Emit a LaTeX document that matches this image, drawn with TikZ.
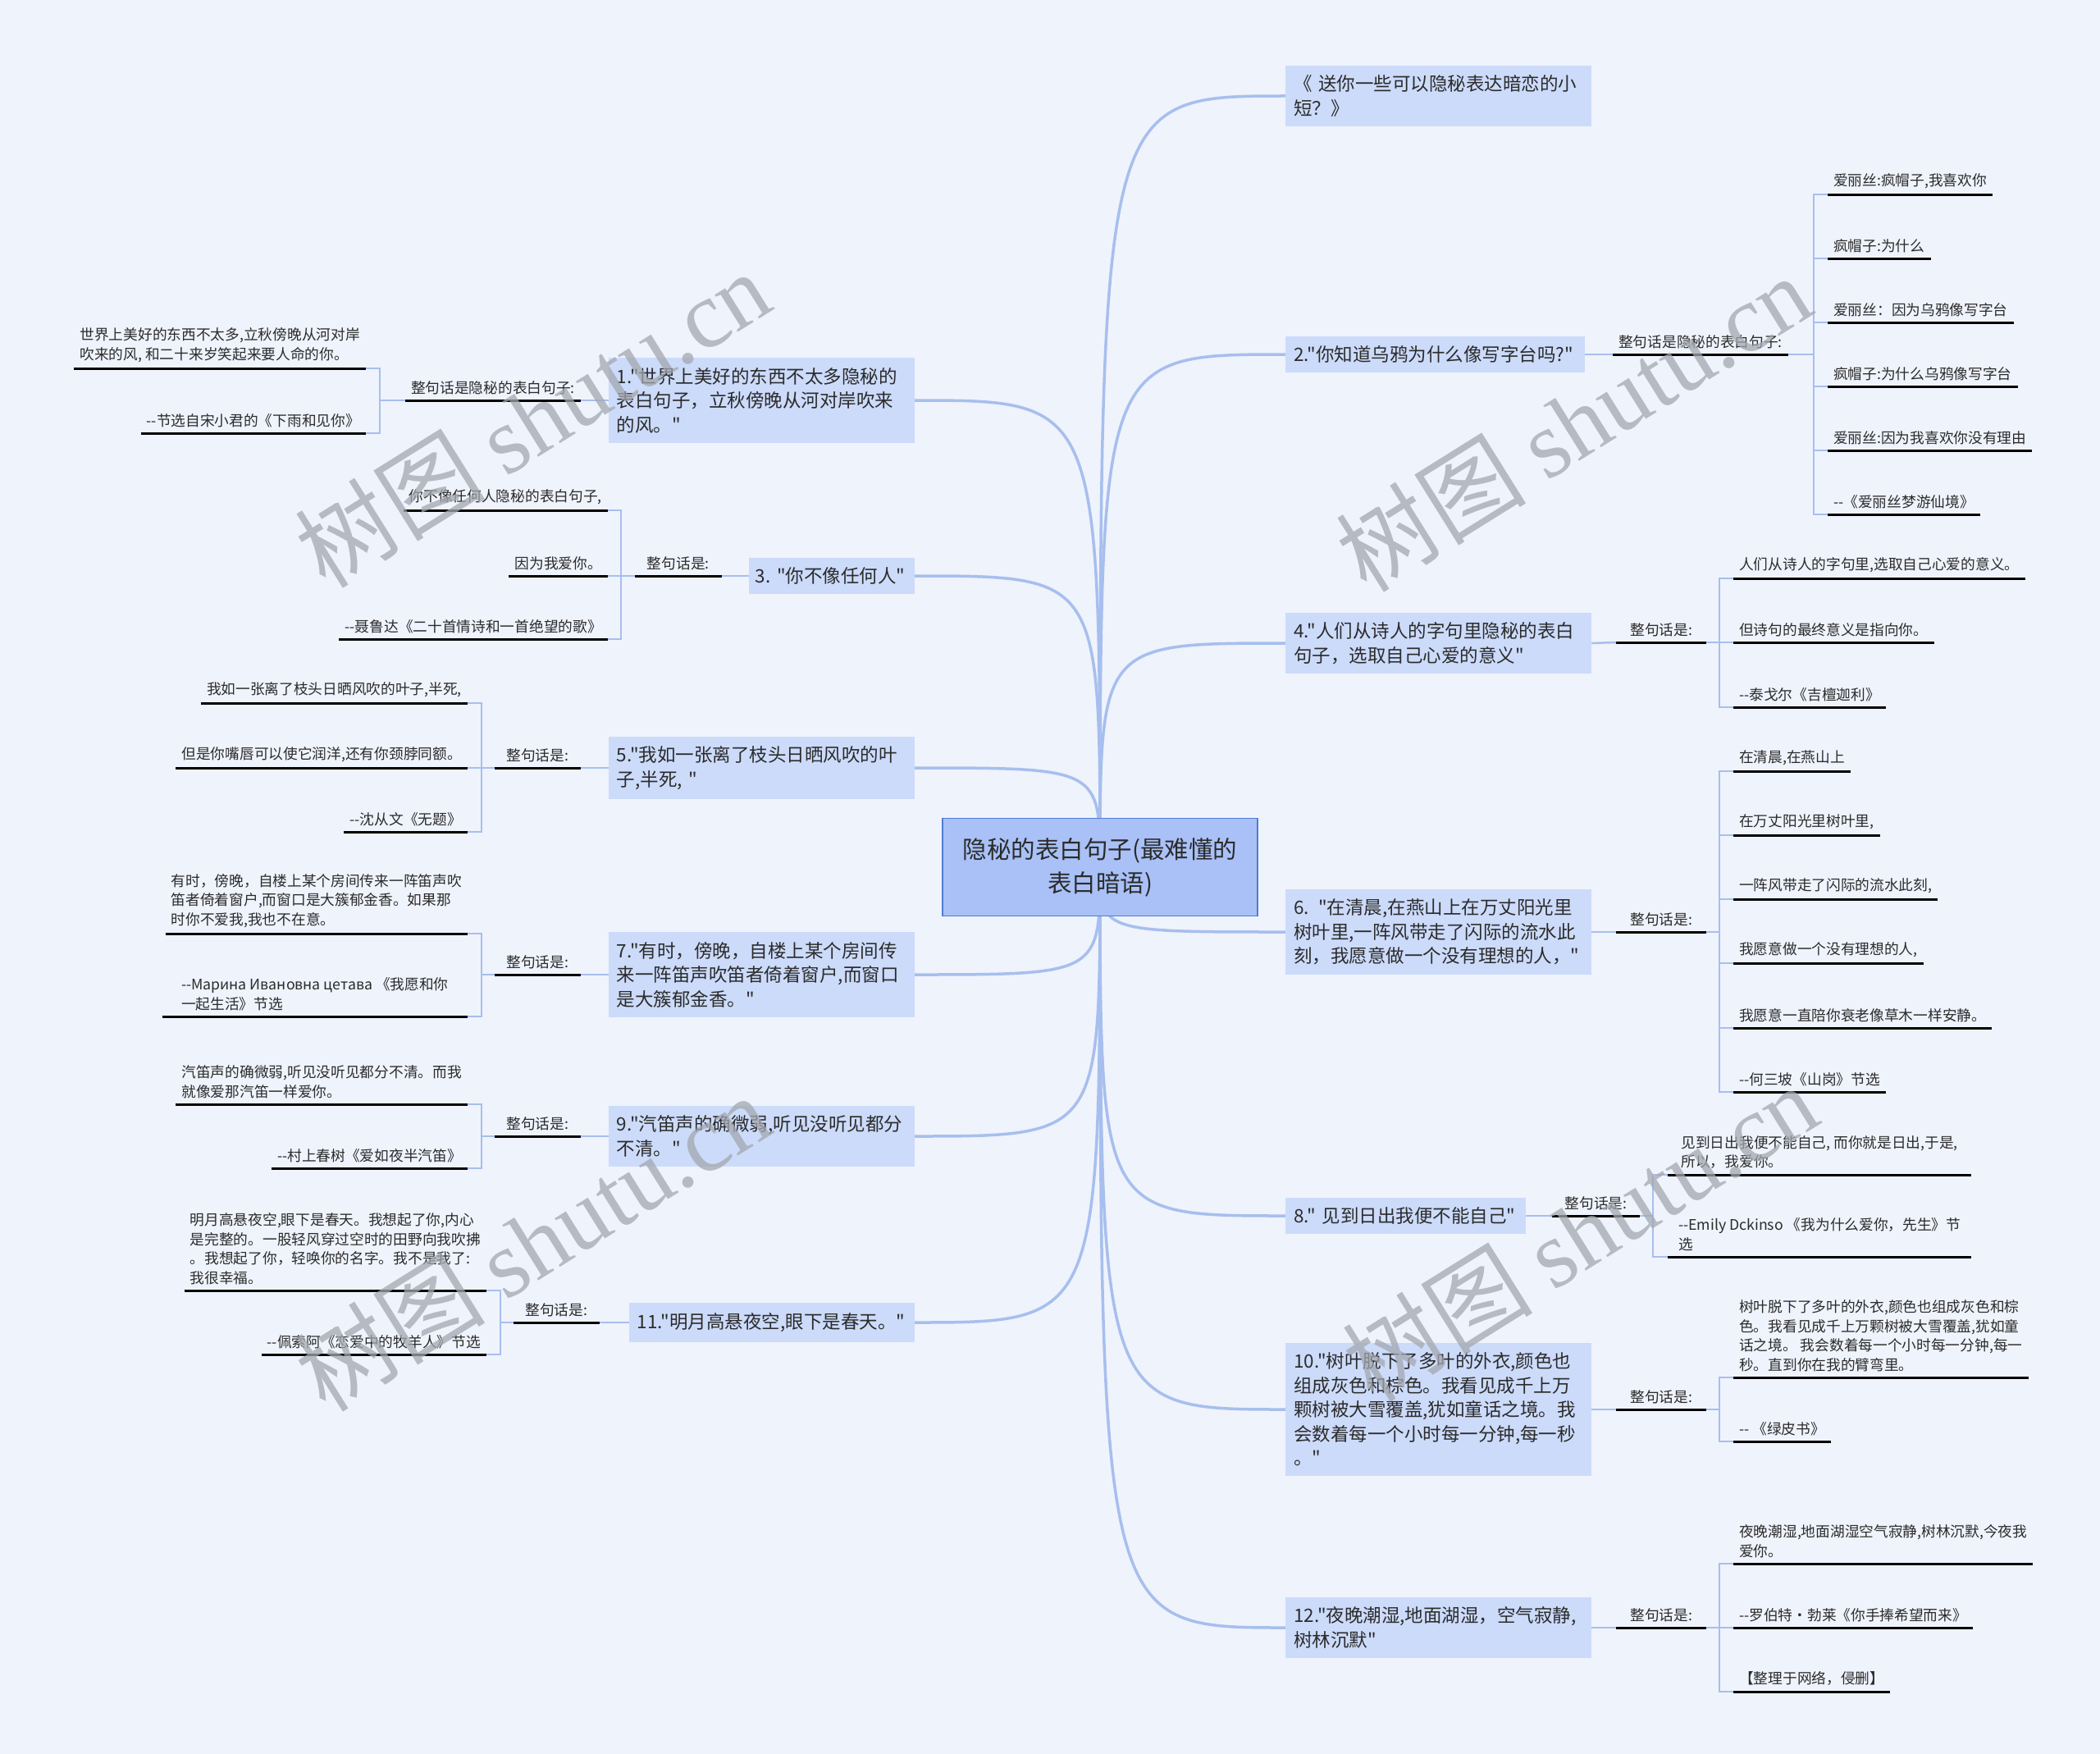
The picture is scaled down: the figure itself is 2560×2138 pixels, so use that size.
\documentclass[tikz,border=0pt]{standalone}
\usepackage{fontspec}
\newfontfamily\cjk{Noto Sans CJK SC}
\newfontfamily\wmfont{Liberation Serif}
\usetikzlibrary{backgrounds}
\definecolor{bgcol}{HTML}{EFF3FC}
\definecolor{rootfill}{HTML}{A9C1F6}
\definecolor{rootline}{HTML}{4F7DD3}
\definecolor{boxfill}{HTML}{CCDBFA}
\definecolor{linkcol}{HTML}{A7BFEE}
\definecolor{txt}{HTML}{2B2B2B}
\definecolor{wmcol}{HTML}{A3A7AF}

\tikzset{
  root/.style={draw=rootline, fill=rootfill, line width=1.5pt, align=center,
    text width=360pt, minimum width=384pt, minimum height=119pt,
    text=txt, font=\cjk\fontsize{29.5}{41}\selectfont},
  branch/.style={fill=boxfill, inner xsep=10pt, inner ysep=12pt, align=left,
    text width=353pt, text=txt, font=\cjk\fontsize{22.5}{29.5}\selectfont},
  lbl/.style={inner xsep=7pt, inner ysep=7pt, text=txt, align=left,
    font=\cjk\fontsize{17.7}{23.5}\selectfont,
    append after command={(\tikzlastnode.south west) edge[uline] (\tikzlastnode.south east)}},
  leaf/.style={lbl},
  uline/.style={draw=black, line width=3pt},
  link/.style={draw=linkcol, line width=2.5pt},
  curve/.style={draw=linkcol, line width=3.5pt},
  wmark/.style={text=wmcol, text opacity=0.75, rotate=32, font=\cjk\fontsize{116}{116}\selectfont}
}

\begin{document}
\begin{tikzpicture}[x=1pt, y=-1pt]
\useasboundingbox (0,0) rectangle (2560,2138);

\node[root] at (1341,1057) (root) {隐秘的表白句子(最难懂的\\表白暗语)};

\node[branch, anchor=west] at (1567,117) (t0) {《 送你一些可以隐秘表达暗恋的小\\短？》};
\node[branch, anchor=west, text width=345pt] at (1567,432) (b2) {2."你知道乌鸦为什么像写字台吗?"};
\node[branch, anchor=west] at (1567,784) (b4) {4."人们从诗人的字句里隐秘的表白\\句子，选取自己心爱的意义"};
\node[branch, anchor=west] at (1567,1136) (b6) {6. "在清晨,在燕山上在万丈阳光里\\树叶里,一阵风带走了闪际的流水此\\刻，我愿意做一个没有理想的人，"};
\node[branch, anchor=west, text width=273pt] at (1567,1482) (b8) {8." 见到日出我便不能自己"};
\node[branch, anchor=west] at (1567,1718) (b10) {10."树叶脱下了多叶的外衣,颜色也\\组成灰色和棕色。我看见成千上万\\颗树被大雪覆盖,犹如童话之境。我\\会数着每一个小时每一分钟,每一秒\\。"};
\node[branch, anchor=west] at (1567,1984) (b12) {12."夜晚潮湿,地面湖湿，空气寂静,\\树林沉默"};

\node[branch, anchor=east] at (1115,488) (b1) {1."世界上美好的东西不太多隐秘的\\表白句子，立秋傍晚从河对岸吹来\\的风。"};
\node[branch, anchor=east, text width=186pt, inner xsep=8pt] at (1115,702) (b3) {3.~"你不像任何人"};
\node[branch, anchor=east] at (1115,936) (b5) {5."我如一张离了枝头日晒风吹的叶\\子,半死, "};
\node[branch, anchor=east] at (1115,1188) (b7) {7."有时，傍晚，自楼上某个房间传\\来一阵笛声吹笛者倚着窗户,而窗口\\是大簇郁金香。"};
\node[branch, anchor=east] at (1115,1385) (b9) {9."汽笛声的确微弱,听见没听见都分\\不清。"};
\node[branch, anchor=east, text width=328pt] at (1115,1612) (b11) {11."明月高悬夜空,眼下是春天。"};

\node[lbl, anchor=south west] at (1966,432) (l2) {整句话是隐秘的表白句子:};
\node[lbl, anchor=south west, minimum width=110pt] at (1970,783) (l4) {整句话是:};
\node[lbl, anchor=south west, minimum width=110pt] at (1970,1136) (l6) {整句话是:};
\node[lbl, anchor=south west, minimum width=107pt] at (1892,1482) (l8) {整句话是:};
\node[lbl, anchor=south west, minimum width=110pt] at (1970,1718) (l10) {整句话是:};
\node[lbl, anchor=south west, minimum width=110pt] at (1970,1984) (l12) {整句话是:};
\node[lbl, anchor=south east] at (708,488) (l1) {整句话是隐秘的表白句子:};
\node[lbl, anchor=south east, minimum width=106pt] at (880,702) (l3) {整句话是:};
\node[lbl, anchor=south east, minimum width=105pt] at (708,936) (l5) {整句话是:};
\node[lbl, anchor=south east, minimum width=105pt] at (708,1188) (l7) {整句话是:};
\node[lbl, anchor=south east, minimum width=105pt] at (708,1385) (l9) {整句话是:};
\node[lbl, anchor=south east, minimum width=105pt] at (731,1612) (l11) {整句话是:};

\coordinate (k2) at (2211,432);
\coordinate (k4) at (2096,783);
\coordinate (k6) at (2096,1136);
\coordinate (k8) at (2015,1482);
\coordinate (k10) at (2096,1718);
\coordinate (k12) at (2096,1984);
\coordinate (k1) at (463,488);
\coordinate (k3) at (757,702);
\coordinate (k5) at (587,936);
\coordinate (k7) at (587,1188);
\coordinate (k9) at (587,1385);
\coordinate (k11) at (610,1612);

\node[leaf, anchor=south west] at (2228,237) (a21) {爱丽丝:疯帽子,我喜欢你};
\node[leaf, anchor=south west] at (2228,315) (a22) {疯帽子:为什么};
\node[leaf, anchor=south west] at (2228,393) (a23) {爱丽丝：因为乌鸦像写字台};
\node[leaf, anchor=south west] at (2228,471) (a24) {疯帽子:为什么乌鸦像写字台};
\node[leaf, anchor=south west] at (2228,549) (a25) {爱丽丝:因为我喜欢你没有理由};
\node[leaf, anchor=south west] at (2228,627) (a26) {--《爱丽丝梦游仙境》};

\node[leaf, anchor=south west] at (2113,705) (a41) {人们从诗人的字句里,选取自己心爱的意义。};
\node[leaf, anchor=south west] at (2113,783) (a42) {但诗句的最终意义是指向你。};
\node[leaf, anchor=south west] at (2113,862) (a43) {--泰戈尔《吉檀迦利》};

\node[leaf, anchor=south west] at (2113,940) (a61) {在清晨,在燕山上};
\node[leaf, anchor=south west] at (2113,1018) (a62) {在万丈阳光里树叶里,};
\node[leaf, anchor=south west] at (2113,1096) (a63) {一阵风带走了闪际的流水此刻,};
\node[leaf, anchor=south west] at (2113,1174) (a64) {我愿意做一个没有理想的人,};
\node[leaf, anchor=south west] at (2113,1253) (a65) {我愿意一直陪你衰老像草木一样安静。};
\node[leaf, anchor=south west] at (2113,1331) (a66) {--何三坡《山岗》节选};

\node[leaf, anchor=south west, minimum width=370pt] at (2033,1432) (a81) {见到日出我便不能自己, 而你就是日出,于是,\\所以，我爱你。};
\node[leaf, anchor=south west, minimum width=370pt] at (2033,1532) (a82) {--Emily Dckinso 《我为什么爱你，先生》节\\选};

\node[leaf, anchor=south west] at (2113,1679) (a101) {树叶脱下了多叶的外衣,颜色也组成灰色和棕\\色。我看见成千上万颗树被大雪覆盖,犹如童\\话之境。 我会数着每一个小时每一分钟,每一\\秒。直到你在我的臂弯里。};
\node[leaf, anchor=south west] at (2113,1757) (a102) {-- 《绿皮书》};

\node[leaf, anchor=south west] at (2113,1906) (a121) {夜晚潮湿,地面湖湿空气寂静,树林沉默,今夜我\\爱你。};
\node[leaf, anchor=south west] at (2113,1984) (a122) {--罗伯特·勃莱《你手捧希望而来》};
\node[leaf, anchor=south west] at (2113,2062) (a123) {【整理于网络，侵删】};

\node[leaf, anchor=south east] at (446,449) (a11) {世界上美好的东西不太多,立秋傍晚从河对岸\\吹来的风, 和二十来岁笑起来要人命的你。};
\node[leaf, anchor=south east] at (446,528) (a12) {--节选自宋小君的《下雨和见你》};

\node[leaf, anchor=south east] at (741,622) (a31) {你不像任何人隐秘的表白句子,};
\node[leaf, anchor=south east] at (741,702) (a32) {因为我爱你。};
\node[leaf, anchor=south east] at (741,779) (a33) {--聂鲁达《二十首情诗和一首绝望的歌》};

\node[leaf, anchor=south east] at (570,857) (a51) {我如一张离了枝头日晒风吹的叶子,半死,};
\node[leaf, anchor=south east] at (570,936) (a52) {但是你嘴唇可以使它润洋,还有你颈脖同额。};
\node[leaf, anchor=south east] at (570,1014) (a53) {--沈从文《无题》};

\node[leaf, anchor=south east] at (570,1138) (a71) {有时，傍晚，自楼上某个房间传来一阵笛声吹\\笛者倚着窗户,而窗口是大簇郁金香。如果那\\时你不爱我,我也不在意。};
\node[leaf, anchor=south east, minimum width=372pt] at (570,1239) (a72) {--Марина Ивановна цетава 《我愿和你\\一起生活》节选};

\node[leaf, anchor=south east] at (570,1346) (a91) {汽笛声的确微弱,听见没听见都分不清。而我\\就像爱那汽笛一样爱你。};
\node[leaf, anchor=south east] at (570,1424) (a92) {--村上春树《爱如夜半汽笛》};

\node[leaf, anchor=south east] at (593,1573) (a111) {明月高悬夜空,眼下是春天。我想起了你,内心\\是完整的。一股轻风穿过空时的田野向我吹拂\\。我想起了你，轻唤你的名字。我不是我了:\\我很幸福。};
\node[leaf, anchor=south east] at (593,1651) (a112) {--佩索阿《恋爱中的牧羊人》节选};

\draw[link] (b2.east) to (l2.south west);
\draw[link] (l2.south east) to (k2);
\draw[link] (k2) |- (a21.south west);
\draw[link] (k2) |- (a22.south west);
\draw[link] (k2) |- (a23.south west);
\draw[link] (k2) |- (a24.south west);
\draw[link] (k2) |- (a25.south west);
\draw[link] (k2) |- (a26.south west);

\draw[link] (b4.east) to (l4.south west);
\draw[link] (l4.south east) to (k4);
\draw[link] (k4) |- (a41.south west);
\draw[link] (k4) |- (a42.south west);
\draw[link] (k4) |- (a43.south west);

\draw[link] (b6.east) to (l6.south west);
\draw[link] (l6.south east) to (k6);
\draw[link] (k6) |- (a61.south west);
\draw[link] (k6) |- (a62.south west);
\draw[link] (k6) |- (a63.south west);
\draw[link] (k6) |- (a64.south west);
\draw[link] (k6) |- (a65.south west);
\draw[link] (k6) |- (a66.south west);

\draw[link] (b8.east) to (l8.south west);
\draw[link] (l8.south east) to (k8);
\draw[link] (k8) |- (a81.south west);
\draw[link] (k8) |- (a82.south west);

\draw[link] (b10.east) to (l10.south west);
\draw[link] (l10.south east) to (k10);
\draw[link] (k10) |- (a101.south west);
\draw[link] (k10) |- (a102.south west);

\draw[link] (b12.east) to (l12.south west);
\draw[link] (l12.south east) to (k12);
\draw[link] (k12) |- (a121.south west);
\draw[link] (k12) |- (a122.south west);
\draw[link] (k12) |- (a123.south west);

\draw[link] (b1.west) to (l1.south east);
\draw[link] (l1.south west) to (k1);
\draw[link] (k1) |- (a11.south east);
\draw[link] (k1) |- (a12.south east);

\draw[link] (b3.west) to (l3.south east);
\draw[link] (l3.south west) to (k3);
\draw[link] (k3) |- (a31.south east);
\draw[link] (k3) |- (a32.south east);
\draw[link] (k3) |- (a33.south east);

\draw[link] (b5.west) to (l5.south east);
\draw[link] (l5.south west) to (k5);
\draw[link] (k5) |- (a51.south east);
\draw[link] (k5) |- (a52.south east);
\draw[link] (k5) |- (a53.south east);

\draw[link] (b7.west) to (l7.south east);
\draw[link] (l7.south west) to (k7);
\draw[link] (k7) |- (a71.south east);
\draw[link] (k7) |- (a72.south east);

\draw[link] (b9.west) to (l9.south east);
\draw[link] (l9.south west) to (k9);
\draw[link] (k9) |- (a91.south east);
\draw[link] (k9) |- (a92.south east);

\draw[link] (b11.west) to (l11.south east);
\draw[link] (l11.south west) to (k11);
\draw[link] (k11) |- (a111.south east);
\draw[link] (k11) |- (a112.south east);

\begin{scope}[on background layer]
\fill[bgcol] (0,0) rectangle (2560,2138);
\draw[curve] (root.center) .. controls (root.center |- t0.west) .. (t0.west);
\draw[curve] (root.center) .. controls (root.center |- b2.west) .. (b2.west);
\draw[curve] (root.center) .. controls (root.center |- b4.west) .. (b4.west);
\draw[curve] (root.center) .. controls (root.center |- b6.west) .. (b6.west);
\draw[curve] (root.center) .. controls (root.center |- b8.west) .. (b8.west);
\draw[curve] (root.center) .. controls (root.center |- b10.west) .. (b10.west);
\draw[curve] (root.center) .. controls (root.center |- b12.west) .. (b12.west);
\draw[curve] (root.center) .. controls (root.center |- b1.east) .. (b1.east);
\draw[curve] (root.center) .. controls (root.center |- b3.east) .. (b3.east);
\draw[curve] (root.center) .. controls (root.center |- b5.east) .. (b5.east);
\draw[curve] (root.center) .. controls (root.center |- b7.east) .. (b7.east);
\draw[curve] (root.center) .. controls (root.center |- b9.east) .. (b9.east);
\draw[curve] (root.center) .. controls (root.center |- b11.east) .. (b11.east);
\end{scope}

\node[wmark] at (649,510) (w1) {树图 {\wmfont shutu.cn}};
\node[wmark] at (1918,515) (w2) {树图 {\wmfont shutu.cn}};
\node[wmark] at (649,1514) (w3) {树图 {\wmfont shutu.cn}};
\node[wmark] at (1926,1502) (w4) {树图 {\wmfont shutu.cn}};
\end{tikzpicture}
\end{document}
